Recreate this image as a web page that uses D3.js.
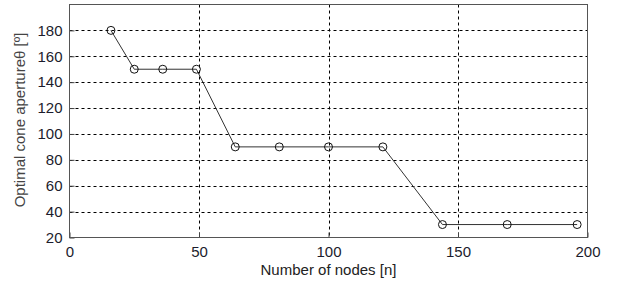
<!DOCTYPE html>
<html><head><meta charset="utf-8">
<script src="https://cdn.jsdelivr.net/npm/d3@7"></script>
<style>body{margin:0;background:#fff;} svg{display:block;}</style>
</head><body>
<svg id="c" width="617" height="283"></svg>
<script>
const nodes = [16, 25, 36, 49, 64, 81, 100, 121, 144, 169, 196];
const aperture = [180, 150, 150, 150, 90, 90, 90, 90, 30, 30, 30];
const xTicks = [0, 50, 100, 150, 200];
const yTicks = [20, 40, 60, 80, 100, 120, 140, 160, 180];
const xLabel = "Number of nodes [n]";
const yLabel = "Optimal cone apertureθ [º]";

const svg = d3.select("#c");
const L = 69.5, R = 587.5, T = 4.5, B = 237.5;
const x = d3.scaleLinear().domain([0, 200]).range([L, R]);
const y = d3.scaleLinear().domain([20, 200]).range([B, T]);
const font = "Liberation Sans, Arial, sans-serif";

// grid
const g = svg.append("g");
g.selectAll(".gx").data(xTicks.filter(d => d > 0 && d < 200)).enter().append("line")
  .attr("x1", d => Math.round(x(d)) + 0.5).attr("x2", d => Math.round(x(d)) + 0.5)
  .attr("y1", T).attr("y2", B).attr("stroke", "#000").attr("stroke-width", 1).attr("stroke-dasharray", "3,3");
g.selectAll(".gy").data(yTicks.filter(d => d > 20)).enter().append("line")
  .attr("y1", d => Math.round(y(d)) + 0.5).attr("y2", d => Math.round(y(d)) + 0.5)
  .attr("x1", L).attr("x2", R).attr("stroke", "#000").attr("stroke-width", 1).attr("stroke-dasharray", "3,3");

// axes via d3
const xAxis = svg.append("g").attr("transform", `translate(0,${B})`)
  .call(d3.axisBottom(x).tickValues(xTicks).tickSizeInner(-5).tickSizeOuter(0).tickPadding(9));
const yAxis = svg.append("g").attr("transform", `translate(${L},0)`)
  .call(d3.axisLeft(y).tickValues(yTicks).tickSizeInner(-5).tickSizeOuter(0).tickPadding(7));
[xAxis, yAxis].forEach(a => {
  a.select(".domain").remove();
  a.selectAll("line").attr("stroke", "#444");
  a.selectAll("text").attr("font-family", font).attr("font-size", 15).attr("fill", "#1c1c2c");
});
// box
svg.append("rect").attr("x", L).attr("y", T).attr("width", R - L).attr("height", B - T)
  .attr("fill", "none").attr("stroke", "#555").attr("stroke-width", 1);

// line
const pts = nodes.map((n, i) => [n, aperture[i]]);
svg.append("path").datum(pts)
  .attr("d", d3.line().x(d => x(d[0])).y(d => y(d[1])))
  .attr("fill", "none").attr("stroke", "#333").attr("stroke-width", 1);
svg.selectAll(".pt").data(pts).enter().append("circle")
  .attr("cx", d => x(d[0])).attr("cy", d => y(d[1])).attr("r", 4)
  .attr("fill", "none").attr("stroke", "#111").attr("stroke-width", 1);

// labels
svg.append("text").attr("x", (L + R) / 2).attr("y", 275).attr("text-anchor", "middle")
  .attr("font-family", font).attr("font-size", 15).attr("fill", "#222").text(xLabel);
svg.append("text").attr("transform", `translate(25,120) rotate(-90)`).attr("text-anchor", "middle")
  .attr("font-family", font).attr("font-size", 15).attr("fill", "#444").text(yLabel);
</script>
</body></html>
